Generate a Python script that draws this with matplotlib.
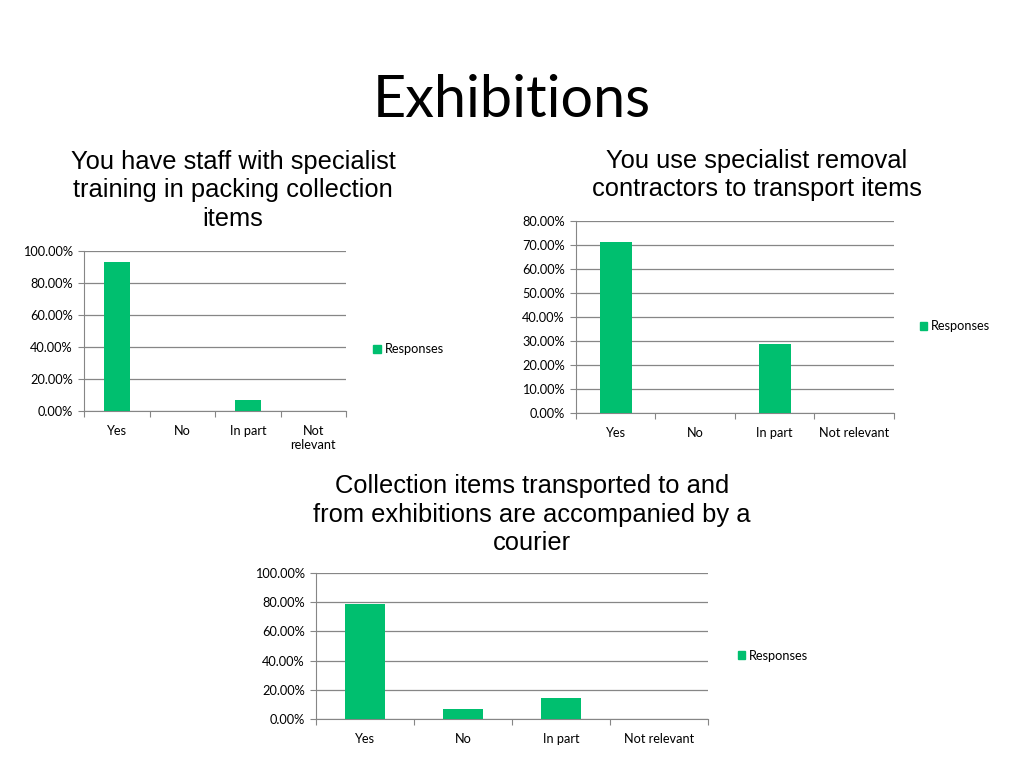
import matplotlib
matplotlib.use('Agg')
import matplotlib.pyplot as plt
from matplotlib.ticker import PercentFormatter
from matplotlib.patches import Patch

## data
categories = ['Yes', 'No', 'In part', 'Not relevant']
cat_labels_1 = ['Yes', 'No', 'In part', 'Not\nrelevant']
staff_trained = [92.86, 0, 7.14, 0]
removal_contractors = [71.43, 0, 28.57, 0]
courier = [78.57, 7.14, 14.29, 0]

title_1 = 'You have staff with specialist\ntraining in packing collection\nitems'
title_2 = 'You use specialist removal\ncontractors to transport items'
title_3 = 'Collection items transported to and\nfrom exhibitions are accompanied by a\ncourier'

bar_color = '#00BF6F'
grid_color = '#868686'
tick_font = 'Lato'

fig = plt.figure(figsize=(10.24, 7.68), dpi=100)
fig.text(0.5, 0.869, 'Exhibitions', ha='center', va='center', fontsize=41.5, family='Lato')


def draw(rect, vals, labels, ymax, ystep, legend_xy):
    ax = fig.add_axes(rect)
    x = range(len(vals))
    ax.bar(x, vals, width=0.4, color=bar_color, zorder=3)
    ax.set_xlim(-0.5, len(vals) - 0.5)
    ax.set_ylim(0, ymax)
    ax.set_yticks([i * ystep for i in range(int(round(ymax / ystep)) + 1)])
    ax.yaxis.set_major_formatter(PercentFormatter(decimals=2))
    ax.set_xticks([i - 0.5 for i in range(len(vals) + 1)])
    ax.set_xticklabels([])
    ax.set_xticks(list(x), minor=True)
    ax.set_xticklabels(labels, minor=True)
    ax.tick_params(axis='x', which='minor', length=0, pad=10)
    ax.tick_params(axis='x', which='major', length=4, color=grid_color, direction='out')
    ax.tick_params(axis='y', length=4, color=grid_color, direction='out', pad=4)
    for lab in ax.get_yticklabels() + ax.get_xticklabels(minor=True):
        lab.set_family(tick_font)
        lab.set_fontsize(9.2)
    ax.grid(axis='y', color=grid_color, linewidth=0.9, zorder=0)
    for s in ['top', 'right']:
        ax.spines[s].set_visible(False)
    ax.spines['left'].set_color(grid_color)
    ax.spines['bottom'].set_color(grid_color)
    fig.legend(handles=[Patch(color=bar_color, label='Responses')],
               loc='center left', bbox_to_anchor=legend_xy, frameon=False,
               handlelength=0.6, handleheight=0.6, handletextpad=0.3,
               prop={'family': tick_font, 'size': 9.2})
    return ax


draw([0.082, 0.4648, 0.256, 0.2083], staff_trained, cat_labels_1, 100, 20, (0.353, 0.545))
draw([0.5625, 0.4626, 0.3105, 0.2493], removal_contractors, categories, 80, 10, (0.887, 0.575))
draw([0.3086, 0.0638, 0.3828, 0.190], courier, categories, 100, 20, (0.709, 0.146))

fig.text(0.2275, 0.752, title_1, ha='center', va='center', fontsize=18.4,
         family='Liberation Sans', linespacing=1.25)
fig.text(0.739, 0.772, title_2, ha='center', va='center', fontsize=18.4,
         family='Liberation Sans', linespacing=1.25)
fig.text(0.5195, 0.330, title_3, ha='center', va='center', fontsize=18.4,
         family='Liberation Sans', linespacing=1.25)

plt.savefig('out.png', dpi=100)
